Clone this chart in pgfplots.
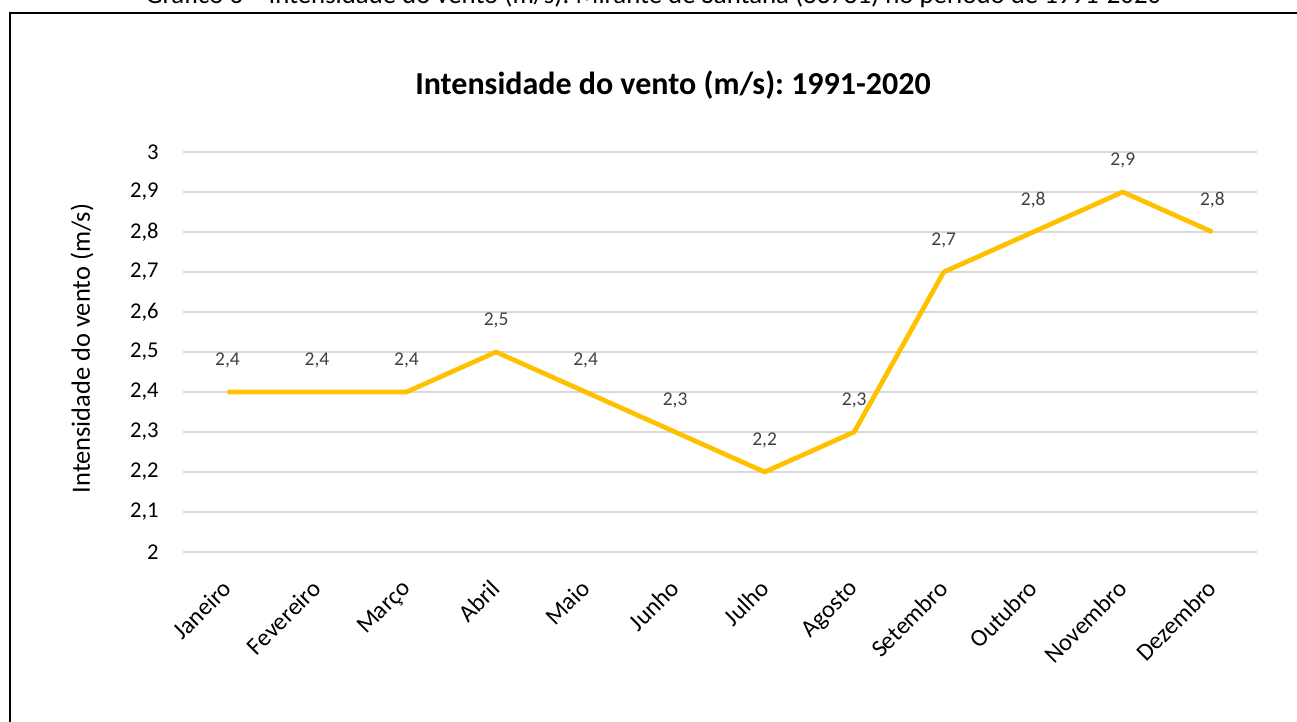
\documentclass[border=0pt]{standalone}
\usepackage{fontspec}
\setmainfont{Carlito}
\usepackage{pgfplots}
\pgfplotsset{compat=1.18}
\definecolor{linegold}{HTML}{FFC000}
\definecolor{gridgray}{HTML}{D9D9D9}
\definecolor{labelgray}{HTML}{404040}
\frenchspacing
\begin{document}
\begin{tikzpicture}
\useasboundingbox (0,0) rectangle (648.5pt,361pt);
% frame
\draw[line width=1pt,black] (5pt,-5pt) -- (5pt,354.5pt) -- (660pt,354.5pt);
% cut caption
\node[anchor=base,inner sep=0pt,font=\fontsize{13.4}{15}\selectfont] at (326.75pt,359pt)
  {Gráfico 6 – Intensidade do vento (m/s): Mirante de Santana (83781) no período de 1991-2020};
% title
\node[anchor=base,inner sep=0pt,font=\fontsize{16}{19}\selectfont\bfseries] at (336.5pt,313.5pt)
  {Intensidade do vento (m/s): 1991-2020};
% y label
\node[rotate=90,inner sep=0pt,font=\fontsize{13.2}{15}\selectfont] at (41pt,186.75pt)
  {Intensidade do vento (m/s)};
\begin{axis}[
  at={(91.35pt,85pt)}, anchor=south west,
  scale only axis, width=537.2pt, height=200pt,
  xmin=-0.5, xmax=11.5, ymin=2, ymax=3,
  xtick={0,...,11},
  xticklabels={Janeiro,Fevereiro,Março,Abril,Maio,Junho,Julho,Agosto,Setembro,Outubro,Novembro,Dezembro},
  ytick={2,2.1,2.2,2.3,2.4,2.5,2.6,2.7,2.8,2.9,3},
  ymajorgrids, grid style={color=gridgray, line width=0.75pt},
  axis line style={draw=none},
  major tick length=0pt,
  tick label style={font=\fontsize{11.3}{13}\selectfont, text=black},
  yticklabel style={anchor=east, inner sep=0pt, xshift=-11.85pt},
  xticklabel style={font=\fontsize{12.2}{14}\selectfont, rotate=45, anchor=north east, inner sep=0pt, xshift=-11.5pt, yshift=-7pt},
  /pgf/number format/use comma,
  /pgf/number format/assume math mode=true,
  clip=false,
  nodes near coords,
  every node near coord/.append style={font=\fontsize{9.75}{11}\selectfont, text=labelgray, anchor=center, yshift=16pt},
]
\addplot[color=linegold, line width=2.35pt, line join=round, mark=none]
  coordinates {(0,2.4) (1,2.4) (2,2.4) (3,2.5) (4,2.4) (5,2.3) (6,2.2) (7,2.3) (8,2.7) (9,2.8) (10,2.9) (11,2.8)};
\end{axis}
\end{tikzpicture}
\end{document}
